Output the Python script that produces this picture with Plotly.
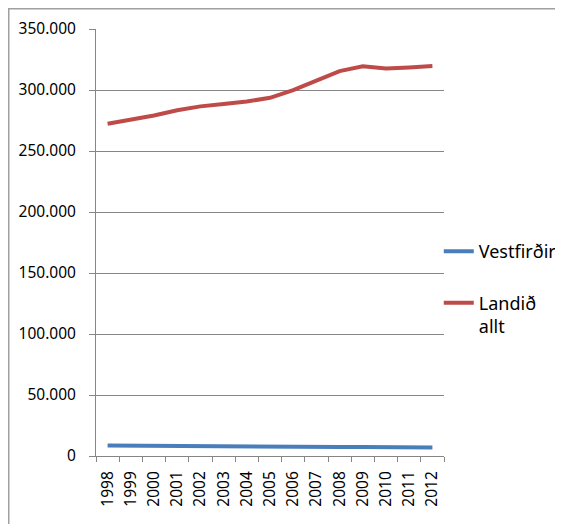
import plotly.graph_objects as go

years = [str(y) for y in range(1998, 2013)]
vestfirdir = [8650, 8440, 8160, 7970, 7880, 7880, 7720, 7550, 7470, 7310, 7280, 7360, 7360, 7140, 7030]
landid_allt = [272381, 275712, 279049, 283361, 286575, 288471, 290570, 293577, 299891,
               307672, 315459, 319368, 317630, 318452, 319575]
series_names = ["Vestfirðir", "Landið<br>allt"]
colors = ["#4a7ebb", "#be4b48"]

fig = go.Figure()
for name, vals, col, grp in zip(series_names, [vestfirdir, landid_allt], colors, ["a", "b"]):
    fig.add_trace(go.Scatter(x=years, y=vals, mode="lines", name=name, legendgroup=grp,
                             line=dict(color=col, width=4)))

tick_font = dict(family="Noto Sans, sans-serif", size=15.5, color="#000000")
legend_font = dict(family="Noto Sans, sans-serif", size=18, color="#000000")

W, H = 555, 516
L, T, R, B = 88, 21, 119, 68
plot_h = H - T - B

fig.update_layout(
    width=W, height=H,
    margin=dict(l=L, r=R, t=T, b=B, autoexpand=False),
    paper_bgcolor="white", plot_bgcolor="white",
    separators=",.",
    font=tick_font,
    showlegend=True,
    legend=dict(x=0.985, y=0.522, xanchor="left", yanchor="top", font=legend_font,
                tracegroupgap=25, valign="top", bgcolor="rgba(0,0,0,0)"),
    xaxis=dict(type="category", range=[-0.5, 14.5], tickangle=-90, showgrid=False,
               showline=True, linecolor="#868686", linewidth=1, automargin=False,
               ticks="outside", ticklen=5, tickcolor="#868686", tickson="boundaries",
               ticklabelstandoff=8, tickfont=tick_font),
    yaxis=dict(range=[0, 350000], dtick=50000, tickformat=",d", showgrid=True,
               gridcolor="#868686", gridwidth=1, zeroline=False, automargin=False,
               showline=True, linecolor="#868686", linewidth=1,
               ticks="outside", ticklen=6, tickcolor="#868686", ticklabelstandoff=10,
               tickfont=tick_font),
    shapes=[dict(type="rect", xref="paper", yref="paper",
                 x0=(0.75 - L) / (W - L - R), x1=1.7, y0=-0.4,
                 y1=(H - B - 0.75) / plot_h,
                 line=dict(color="#a0a0a0", width=1.5), layer="below")],
)

fig.write_html("out.html")
